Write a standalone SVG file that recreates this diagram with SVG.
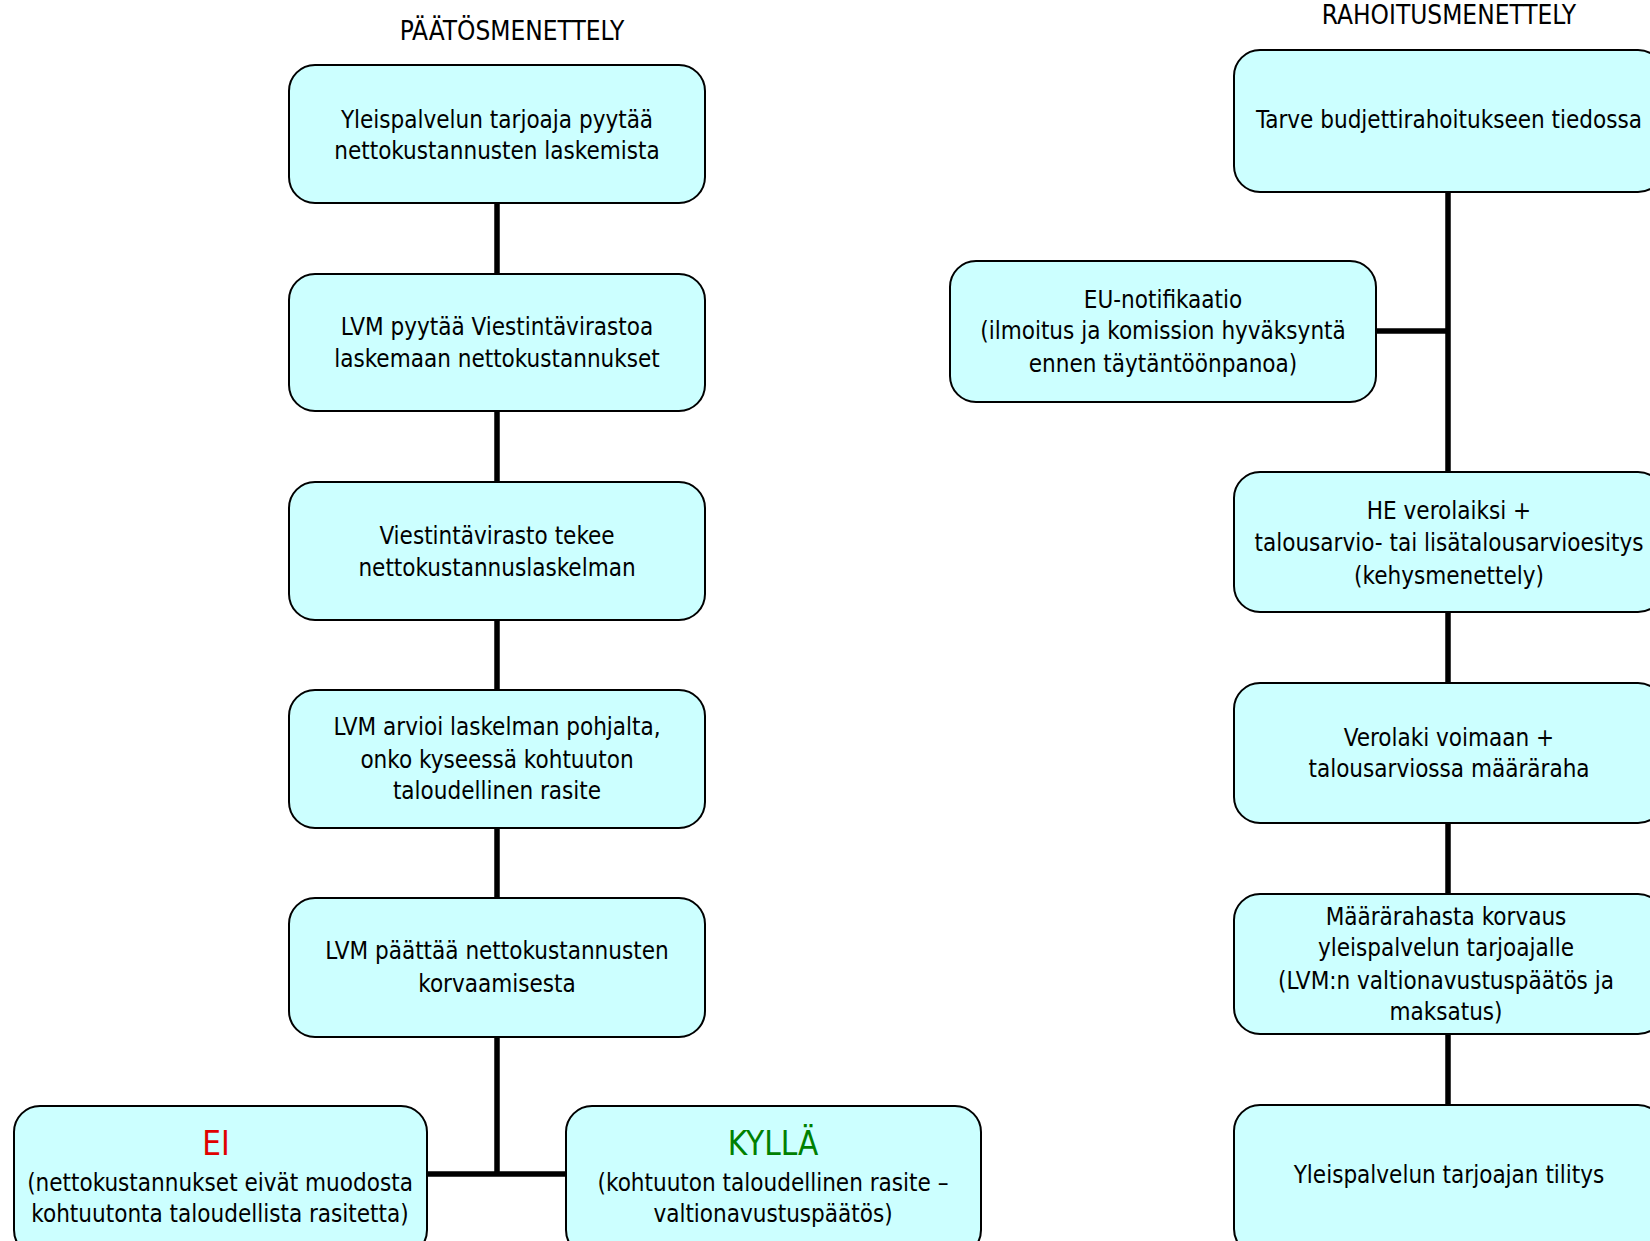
<svg xmlns="http://www.w3.org/2000/svg" width="1650" height="1241" viewBox="0 0 1650 1241">
<style>
.box{fill:#CCFFFF;stroke:#000;stroke-width:2}
.t{font-family:"Liberation Sans Narrow","DejaVu Sans Condensed","Liberation Sans",sans-serif;font-size:24px;fill:#000;text-anchor:middle}
.h{font-family:"Liberation Sans Narrow","DejaVu Sans Condensed","Liberation Sans",sans-serif;font-size:26px;fill:#000;text-anchor:middle}
.big{font-size:33px}
.c{stroke:#000;stroke-width:5.5;fill:none}
</style>
<rect width="1650" height="1241" fill="#fff"/>
<text class="h" x="512" y="40">PÄÄTÖSMENETTELY</text>
<text class="h" x="1449" y="24">RAHOITUSMENETTELY</text>
<g id="connectors">
<path class="c" d="M497 203V274M497 411V482M497 620V690M497 828V898M497 1037V1174M427 1174H566"/>
<path class="c" d="M1448 192V472M1376 331H1448M1448 612V683M1448 823V894M1448 1034V1105"/>
</g>
<g id="n1"><rect class="box" x="289" y="65" width="416" height="138" rx="26"/>
<text class="t" x="497" y="128">Yleispalvelun tarjoaja pyytää</text>
<text class="t" x="497" y="159">nettokustannusten laskemista</text></g>
<g id="n2"><rect class="box" x="289" y="274" width="416" height="137" rx="26"/>
<text class="t" x="497" y="335">LVM pyytää Viestintävirastoa</text>
<text class="t" x="497" y="367">laskemaan nettokustannukset</text></g>
<g id="n3"><rect class="box" x="289" y="482" width="416" height="138" rx="26"/>
<text class="t" x="497" y="544">Viestintävirasto tekee</text>
<text class="t" x="497" y="576">nettokustannuslaskelman</text></g>
<g id="n4"><rect class="box" x="289" y="690" width="416" height="138" rx="26"/>
<text class="t" x="497" y="735">LVM arvioi laskelman pohjalta,</text>
<text class="t" x="497" y="768">onko kyseessä kohtuuton</text>
<text class="t" x="497" y="799">taloudellinen rasite</text></g>
<g id="n5"><rect class="box" x="289" y="898" width="416" height="139" rx="26"/>
<text class="t" x="497" y="959">LVM päättää nettokustannusten</text>
<text class="t" x="497" y="992">korvaamisesta</text></g>
<g id="ei"><rect class="box" x="14" y="1106" width="413" height="150" rx="26"/>
<text class="t big" x="216" y="1155" style="fill:#E00000">EI</text>
<text class="t" x="220" y="1191">(nettokustannukset eivät muodosta</text>
<text class="t" x="220" y="1222">kohtuutonta taloudellista rasitetta)</text></g>
<g id="kylla"><rect class="box" x="566" y="1106" width="415" height="150" rx="26"/>
<text class="t big" x="773" y="1155" style="fill:#008000">KYLLÄ</text>
<text class="t" x="773" y="1191">(kohtuuton taloudellinen rasite –</text>
<text class="t" x="773" y="1222">valtionavustuspäätös)</text></g>
<g id="r1"><rect class="box" x="1234" y="50" width="430" height="142" rx="26"/>
<text class="t" x="1449" y="128">Tarve budjettirahoitukseen tiedossa</text></g>
<g id="eu"><rect class="box" x="950" y="261" width="426" height="141" rx="26"/>
<text class="t" x="1163" y="308">EU-notifikaatio</text>
<text class="t" x="1163" y="339">(ilmoitus ja komission hyväksyntä</text>
<text class="t" x="1163" y="372">ennen täytäntöönpanoa)</text></g>
<g id="r2"><rect class="box" x="1234" y="472" width="430" height="140" rx="26"/>
<text class="t" x="1449" y="519">HE verolaiksi +</text>
<text class="t" x="1449" y="551">talousarvio- tai lisätalousarvioesitys</text>
<text class="t" x="1449" y="584">(kehysmenettely)</text></g>
<g id="r3"><rect class="box" x="1234" y="683" width="430" height="140" rx="26"/>
<text class="t" x="1449" y="746">Verolaki voimaan +</text>
<text class="t" x="1449" y="777">talousarviossa määräraha</text></g>
<g id="r4"><rect class="box" x="1234" y="894" width="430" height="140" rx="26"/>
<text class="t" x="1446" y="925">Määrärahasta korvaus</text>
<text class="t" x="1446" y="956">yleispalvelun tarjoajalle</text>
<text class="t" x="1446" y="989">(LVM:n valtionavustuspäätös ja</text>
<text class="t" x="1446" y="1020">maksatus)</text></g>
<g id="r5"><rect class="box" x="1234" y="1105" width="430" height="150" rx="26"/>
<text class="t" x="1449" y="1183">Yleispalvelun tarjoajan tilitys</text></g>
</svg>
